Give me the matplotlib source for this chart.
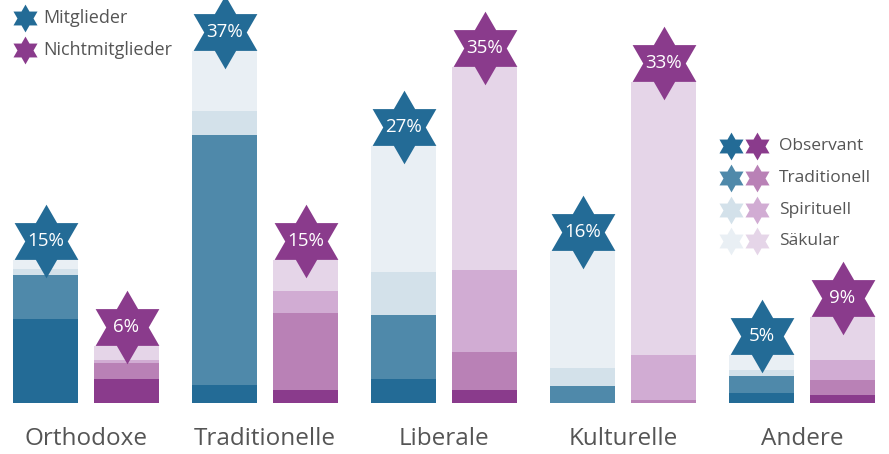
import numpy as np
import matplotlib
matplotlib.use("Agg")
import matplotlib.pyplot as plt
from matplotlib.path import Path

plt.rcParams['font.family'] = ['Open Sans', 'DejaVu Sans']

# data (percent of respondents)
categories = ['Orthodoxe', 'Traditionelle', 'Liberale', 'Kulturelle', 'Andere']
segments = ['Observant', 'Traditionell', 'Spirituell', 'Säkular']

# Mitglieder, per category: Observant, Traditionell, Spirituell, Säkular
mitglieder = [
    [8.8, 4.6, 0.7, 0.9],
    [1.9, 26.2, 2.6, 6.3],
    [2.5, 6.7, 4.6, 13.2],
    [0.0, 1.8, 1.9, 12.3],
    [1.0, 1.8, 0.7, 1.5],
]
nichtmitglieder = [
    [2.5, 1.7, 0.3, 1.5],
    [1.4, 8.1, 2.3, 3.2],
    [1.4, 4.0, 8.6, 21.3],
    [0.0, 0.3, 4.7, 28.7],
    [0.8, 1.6, 2.1, 4.5],
]
total_m = [15, 37, 27, 16, 5]
total_nm = [6, 15, 35, 33, 9]

blues = ['#236b96', '#4f89aa', '#d3e1ea', '#e9eff4']
purples = ['#8a3b8c', '#b981b6', '#d1acd3', '#e5d5e8']
text_grey = '#555555'


def hexagram():
    verts = []
    for k in range(6):
        a = np.deg2rad(90 - 60 * k)
        verts.append((np.cos(a), np.sin(a)))
        b = np.deg2rad(60 - 60 * k)
        verts.append((np.cos(b) / np.sqrt(3), np.sin(b) / np.sqrt(3)))
    verts.append(verts[0])
    codes = [Path.MOVETO] + [Path.LINETO] * 11 + [Path.CLOSEPOLY]
    return Path(verts, codes)


star = hexagram()

fig = plt.figure(figsize=(8.89, 4.54), dpi=100)
ax = fig.add_axes([0, 0, 1, 1])

px_x = 179.0
px_y = 9.52
x0 = -86 / px_x
y0 = -51 / px_y
ax.set_xlim(x0, x0 + 889 / px_x)
ax.set_ylim(y0, y0 + 454 / px_y)
ax.axis('off')

offset = 81 / px_x / 2
width = 65 / px_x
x = np.arange(len(categories))

for data, totals, colors, dx in [(mitglieder, total_m, blues, -offset),
                                 (nichtmitglieder, total_nm, purples, offset)]:
    arr = np.array(data)
    bottom = np.zeros(len(categories))
    for j in range(len(segments)):
        ax.bar(x + dx, arr[:, j], width=width, bottom=bottom, color=colors[j],
               linewidth=0)
        bottom += arr[:, j]
    star_y = bottom + 19 / px_y
    ax.plot(x + dx, star_y, linestyle='none', marker=star, markersize=53,
            color=colors[0], markeredgewidth=0)
    for xi, yi, t in zip(x + dx, star_y, totals):
        ax.text(xi, yi, f'{t}%', ha='center', va='center', color='white',
                fontsize=13.5)

for xi, c in zip(x, categories):
    ax.text(xi, y0 + 15 / px_y, c, ha='center', va='center', color=text_grey,
            fontsize=17.5)

# legend: Mitglieder / Nichtmitglieder (top left)
def fig_star(xp, yp, color, size=20):
    fig.lines.append(plt.Line2D([xp / 889], [1 - yp / 454], transform=fig.transFigure,
                                linestyle='none', marker=star, markersize=size,
                                color=color, markeredgewidth=0))


for yp, label, col in [(18, 'Mitglieder', blues[0]), (50, 'Nichtmitglieder', purples[0])]:
    fig_star(25, yp, col)
    fig.text(43 / 889, 1 - yp / 454, label, ha='left', va='center',
             color=text_grey, fontsize=13)

# legend: segments (right)
for k, (seg, yp) in enumerate(zip(segments, [146, 178, 210, 241])):
    fig_star(731, yp, blues[k])
    fig_star(757, yp, purples[k])
    fig.text(779 / 889, 1 - yp / 454, seg, ha='left', va='center',
             color=text_grey, fontsize=12.5)

fig.savefig('out.png', dpi=100)
